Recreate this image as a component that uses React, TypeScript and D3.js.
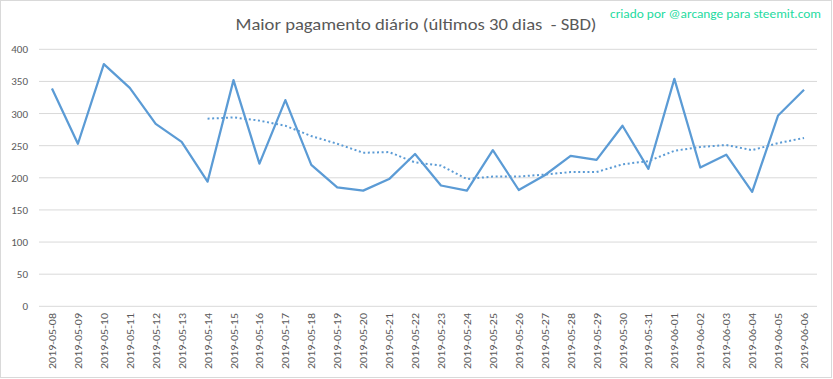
import React from "react";
import * as d3 from "d3";

const dates = [
  "2019-05-08","2019-05-09","2019-05-10","2019-05-11","2019-05-12","2019-05-13","2019-05-14",
  "2019-05-15","2019-05-16","2019-05-17","2019-05-18","2019-05-19","2019-05-20","2019-05-21",
  "2019-05-22","2019-05-23","2019-05-24","2019-05-25","2019-05-26","2019-05-27","2019-05-28",
  "2019-05-29","2019-05-30","2019-05-31","2019-06-01","2019-06-02","2019-06-03","2019-06-04",
  "2019-06-05","2019-06-06",
];
const values = [
  339, 253, 377, 340, 284, 256, 194, 352, 222, 321, 220, 185, 180, 198, 237,
  188, 180, 243, 181, 204, 234, 228, 281, 214, 354, 216, 236, 178, 297, 337,
];
// 7-day moving average trend, starts at 2019-05-14
const trend: (number | null)[] = [
  null, null, null, null, null, null, 292, 294, 289, 281, 265, 253, 239, 240, 224,
  219, 198, 202, 202, 205, 209, 209, 221, 226, 242, 248, 251, 243, 254, 262,
];
const yTicks = [0, 50, 100, 150, 200, 250, 300, 350, 400];
const title = "Maior pagamento diário (últimos 30 dias  - SBD)";
const credit = "criado por @arcange para steemit.com";

export default function App() {
  const W = 833, H = 379;
  const left = 39, right = 817, top = 49.3, bottom = 306.3;
  const x = d3.scaleBand<string>().domain(dates).range([left, right]);
  const y = d3.scaleLinear().domain([0, 400]).range([bottom, top]);
  const cx = (d: string) => (x(d) as number) + x.bandwidth() / 2;
  const line = d3.line<number>().x((_, i) => cx(dates[i])).y((v) => y(v));
  const tline = d3
    .line<number | null>()
    .defined((v) => v !== null)
    .x((_, i) => cx(dates[i]))
    .y((v) => y(v as number));
  const blue = "#5B9BD5";
  const font = "Calibri, Carlito, 'Open Sans', sans-serif";
  return (
    <svg width={W} height={H} style={{ position: "absolute", left: 0, top: 0, display: "block" }}>
      <rect x={0} y={0} width={W} height={H} fill="#fff" />
      <rect x={0.5} y={0.5} width={831} height={377} fill="none" stroke="#D9D9D9" />
      <text x={416} y={30} textAnchor="middle" fontFamily={font} fontSize={16.5} fill="#595959" textLength={361} lengthAdjust="spacingAndGlyphs" style={{ whiteSpace: "pre" }}>
        {title}
      </text>
      <text x={610} y={18} fontFamily={font} fontSize={11.5} fill="#1EDBA0" textLength={211} lengthAdjust="spacingAndGlyphs">
        {credit}
      </text>
      {yTicks.map((t) => (
        <g key={t}>
          <line x1={left} x2={right} y1={y(t)} y2={y(t)} stroke="#D9D9D9" strokeWidth={1} />
          <text x={28} y={y(t) + 4} textAnchor="end" fontFamily={font} fontSize={11} fill="#595959">
            {t}
          </text>
        </g>
      ))}
      {dates.map((d) => (
        <text
          key={d}
          transform={`translate(${cx(d) + 4},${313}) rotate(-90)`}
          textAnchor="end"
          fontFamily={font}
          fontSize={10.5}
          fill="#595959"
          textLength={56}
          lengthAdjust="spacingAndGlyphs"
        >
          {d}
        </text>
      ))}
      <path d={tline(trend) || ""} fill="none" stroke={blue} strokeWidth={2} strokeDasharray="2 2.6" />
      <path d={line(values) || ""} fill="none" stroke={blue} strokeWidth={2.25} strokeLinejoin="round" />
    </svg>
  );
}
